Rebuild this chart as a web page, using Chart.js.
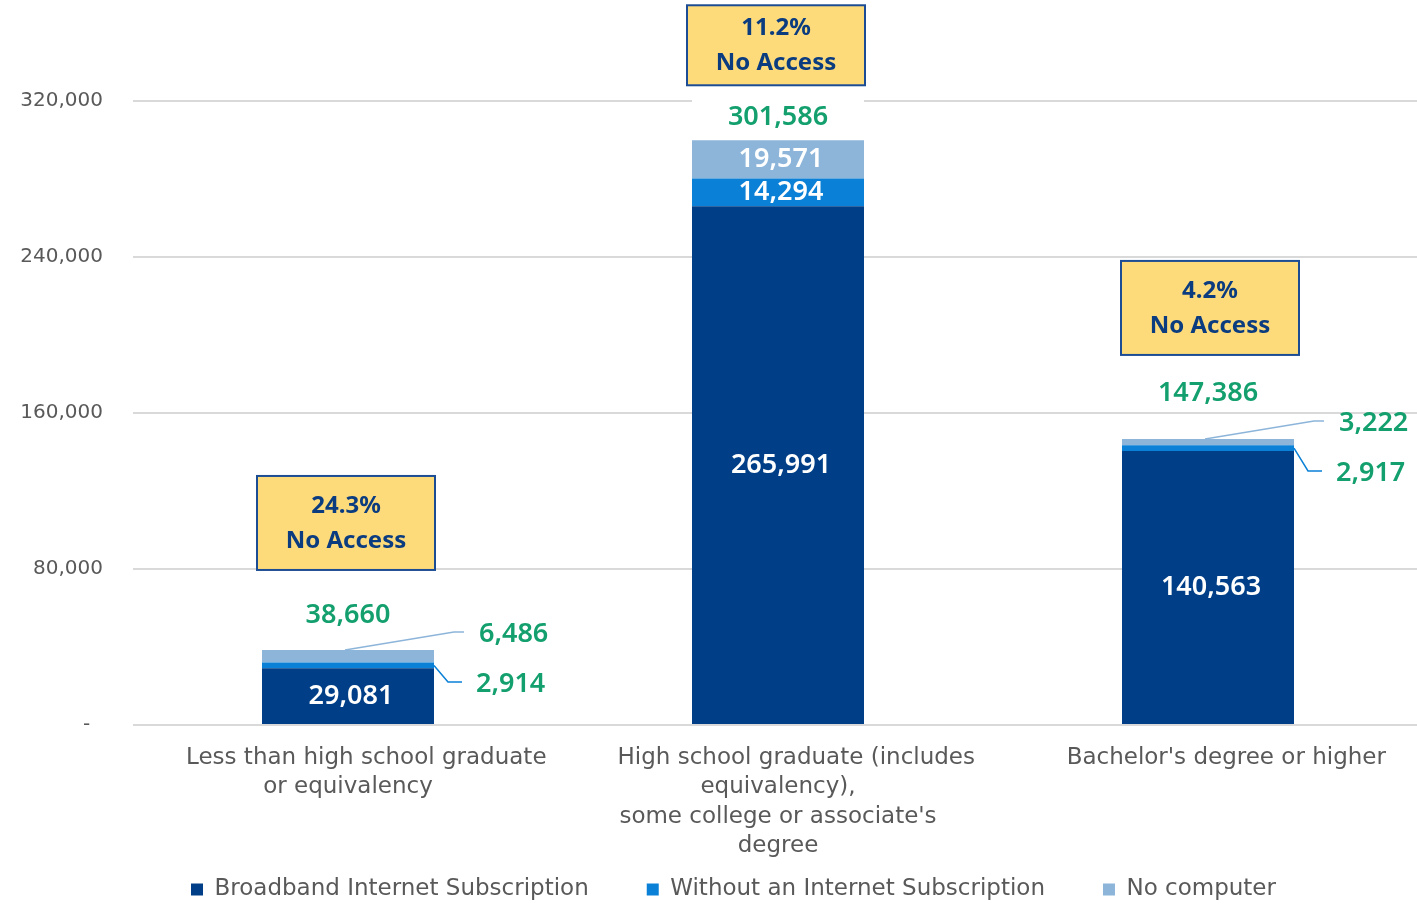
<!DOCTYPE html>
<html>
<head>
<meta charset="utf-8">
<script src="https://cdn.jsdelivr.net/npm/chart.js@4"></script>
<style>
html,body{margin:0;padding:0;background:#fff;}
#wrap{width:1417px;height:904px;position:relative;}
</style>
</head>
<body>
<div id="wrap"><canvas id="c"></canvas></div>
<script>
// ---- data ----
const categories = [
  ["Less than high school graduate", "or equivalency"],
  ["High school graduate (includes", "equivalency),", "some college or associate's", "degree"],
  ["Bachelor's degree or higher"]
];
const seriesNames = ["Broadband Internet Subscription", "Without an Internet Subscription", "No computer"];
const broadband = [29081, 265991, 140563];
const withoutSubscription = [2914, 14294, 2917];
const noComputer = [6486, 19571, 3222];
const totalLabels = [38660, 301586, 147386];
const noAccessPct = ["24.3%", "11.2%", "4.2%"];
const yTicks = [0, 80000, 160000, 240000, 320000];

const colors = ["#003F87", "#0A80D6", "#8DB5DA"];
const green = "#13A06E";
const navy = "#0B3C80";
const fmt = v => v.toLocaleString("en-US");

const AREA_TOP = 23;
const AREA_RIGHT_EXTRA = 6;
const layoutTweak = {
  id: "layoutTweak",
  afterLayout(chart) {
    const lg = chart.legend;
    if (lg) { lg.top += 7; lg.bottom += 7; lg.left += 50; }
    const x = chart.scales.x;
    x.bottom = chart.height; x.height = x.bottom - x.top;
    x.right += AREA_RIGHT_EXTRA; x.width = x.right - x.left;
    x.configure();
    const y = chart.scales.y;
    y.top = AREA_TOP; y.height = y.bottom - y.top;
    y.configure();
    const ca = chart.chartArea;
    ca.top = AREA_TOP; ca.height = ca.bottom - AREA_TOP;
    ca.right += AREA_RIGHT_EXTRA; ca.width = ca.right - ca.left;
  }
};

const labelPlugin = {
  id: "labels",
  afterDatasetsDraw(chart) {
    const ctx = chart.ctx;
    const m0 = chart.getDatasetMeta(0).data;
    const m1 = chart.getDatasetMeta(1).data;
    const m2 = chart.getDatasetMeta(2).data;
    const valFont = "600 27px 'Noto Sans'";
    ctx.save();
    ctx.textBaseline = "middle";
    for (let i = 0; i < categories.length; i++) {
      const b0 = m0[i], b1 = m1[i], b2 = m2[i];
      const cx = b0.x, half = b0.width / 2, right = cx + half;
      const top = b2.y;
      ctx.font = valFont;
      ctx.fillStyle = "#fff"; ctx.textAlign = "center";
      ctx.fillText(fmt(broadband[i]), cx + 3, (b0.y + b0.base) / 2);
      const h1 = b1.base - b1.y, h2 = b2.base - b2.y;
      if (h1 > 20 && h2 > 20) {
        ctx.fillText(fmt(withoutSubscription[i]), cx + 3, (b1.y + b1.base) / 2);
        ctx.fillText(fmt(noComputer[i]), cx + 3, (b2.y + b2.base) / 2);
      } else {
        const ncY = top - 16;
        const wsMid = (b1.y + b1.base) / 2;
        const wsY = Math.max(wsMid + 13, ncY + 50);
        ctx.lineWidth = 1.5;
        ctx.strokeStyle = colors[2];
        ctx.beginPath();
        ctx.moveTo(cx - 3, top); ctx.lineTo(right + 20, ncY - 2); ctx.lineTo(right + 30, ncY - 2);
        ctx.stroke();
        ctx.strokeStyle = colors[1];
        ctx.beginPath();
        ctx.moveTo(right, wsMid); ctx.lineTo(right + 14, wsY - 2); ctx.lineTo(right + 28, wsY - 2);
        ctx.stroke();
        ctx.fillStyle = green; ctx.textAlign = "left";
        ctx.fillText(fmt(noComputer[i]), right + 45, ncY);
        ctx.fillText(fmt(withoutSubscription[i]), right + 42, wsY);
      }
      const tY = top - (h2 > 20 ? 23 : (i === 0 ? 35 : 46));
      ctx.fillStyle = "#fff";
      ctx.fillRect(cx - half, tY - 19, b0.width, 36);
      ctx.fillStyle = green; ctx.textAlign = "center";
      ctx.fillText(fmt(totalLabels[i]), cx, tY);
      const boxH = h2 > 20 ? 80 : 94;
      const bY = tY - (h2 > 20 ? 72 : (i === 0 ? 92 : 85));
      const bw = 178;
      const bx = cx - 2 - bw / 2 + (i === 2 ? 4 : 0);
      ctx.fillStyle = "#FEDB7A";
      ctx.fillRect(bx, bY - boxH / 2, bw, boxH);
      ctx.strokeStyle = "#1C4C93"; ctx.lineWidth = 2;
      ctx.strokeRect(bx, bY - boxH / 2, bw, boxH);
      ctx.fillStyle = navy; ctx.font = "bold 24px 'Noto Sans'";
      ctx.fillText(noAccessPct[i], bx + bw / 2, bY - 17);
      ctx.fillText("No Access", bx + bw / 2, bY + 18);
    }
    ctx.restore();
  }
};

new Chart(document.getElementById("c"), {
  type: "bar",
  data: {
    labels: categories,
    datasets: [
      { label: seriesNames[0], data: broadband, backgroundColor: colors[0] },
      { label: seriesNames[1], data: withoutSubscription, backgroundColor: colors[1] },
      { label: seriesNames[2], data: noComputer, backgroundColor: colors[2] }
    ]
  },
  options: {
    responsive: true,
    maintainAspectRatio: false,
    animation: false,
    layout: { padding: { top: 5, right: 0, left: 0, bottom: 0 } },
    datasets: { bar: { barPercentage: 0.4, categoryPercentage: 1.0 } },
    plugins: {
      legend: {
        position: "bottom",
        labels: {
          boxWidth: 12, boxHeight: 12, padding: 58,
          color: "#595959",
          font: { family: "DejaVu Sans", size: 23 }
        }
      },
      tooltip: { enabled: false }
    },
    scales: {
      x: {
        stacked: true,
        grid: { display: false },
        border: { display: false },
        afterFit: s => { s.height = 88; },
        ticks: {
          color: "#595959", font: { family: "DejaVu Sans", size: 23, lineHeight: 1.28 },
          padding: 10, maxRotation: 0, autoSkip: false,
          callback: (v, i) => {
            const lines = categories[i].slice();
            lines[0] = "     " + lines[0];
            return lines;
          }
        }
      },
      y: {
        stacked: true,
        min: 0, max: 360000,
        afterBuildTicks: s => { s.ticks = yTicks.map(v => ({ value: v })); },
        afterFit: s => { s.width = 133; },
        grid: { color: "#D9D9D9", lineWidth: 2, drawTicks: false },
        border: { display: false },
        ticks: {
          color: "#595959", padding: 30,
          font: { family: "DejaVu Sans", size: 20 },
          callback: v => v === 0 ? "-  " : fmt(v)
        }
      }
    }
  },
  plugins: [labelPlugin, layoutTweak]
});
</script>
</body>
</html>
